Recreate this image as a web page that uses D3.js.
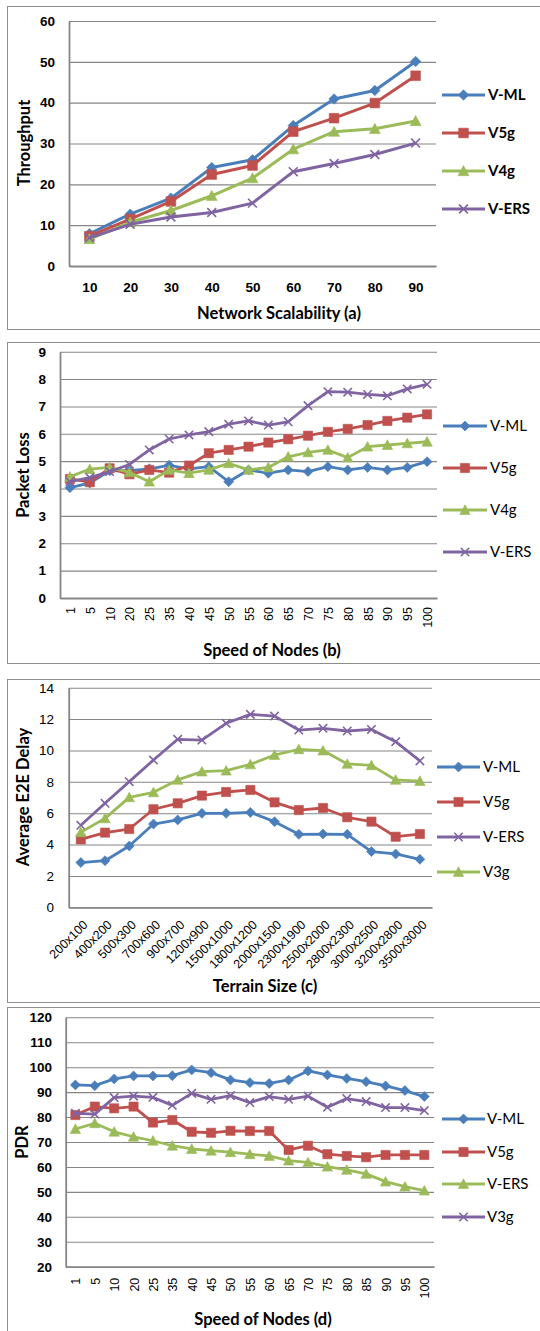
<!DOCTYPE html>
<html>
<head>
<meta charset="utf-8">
<script src="https://cdn.jsdelivr.net/npm/d3@7"></script>
<style>
  body { margin: 0; background: #fff; }
  svg { display: block; font-family: Lato, "Open Sans", sans-serif; }
</style>
</head>
<body>
<svg id="chart" width="540" height="1331"></svg>
<script>
// ---- (a) Throughput vs network scalability ----
const scalabilityLevels = ["10", "20", "30", "40", "50", "60", "70", "80", "90"];
const throughputTicks = [0, 10, 20, 30, 40, 50, 60];
const throughputVML  = [7.9, 12.7, 16.6, 24.1, 26.0, 34.4, 40.9, 43.0, 50.1];
const throughputV5g  = [7.3, 11.5, 15.8, 22.4, 24.6, 32.9, 36.2, 39.9, 46.6];
const throughputV4g  = [6.6, 10.7, 13.6, 17.2, 21.5, 28.6, 32.9, 33.6, 35.5];
const throughputVERS = [6.9, 10.2, 12.0, 13.1, 15.4, 23.1, 25.1, 27.3, 30.1];

// ---- (b) Packet loss vs speed of nodes ----
const nodeSpeeds = ["1", "5", "10", "20", "25", "35", "40", "45", "50", "55", "60", "65", "70", "75", "80", "85", "90", "95", "100"];
const lossTicks = [0, 1, 2, 3, 4, 5, 6, 7, 8, 9];
const lossVML  = [4.03, 4.2, 4.65, 4.65, 4.72, 4.85, 4.72, 4.8, 4.25, 4.68, 4.56, 4.68, 4.62, 4.8, 4.68, 4.77, 4.68, 4.77, 4.98];
const lossV5g  = [4.35, 4.23, 4.74, 4.52, 4.68, 4.58, 4.84, 5.29, 5.41, 5.53, 5.68, 5.8, 5.93, 6.07, 6.18, 6.32, 6.47, 6.59, 6.71];
const lossV4g  = [4.43, 4.71, 4.77, 4.59, 4.25, 4.68, 4.56, 4.68, 4.92, 4.68, 4.77, 5.16, 5.32, 5.41, 5.13, 5.53, 5.59, 5.65, 5.71];
const lossVERS = [4.25, 4.4, 4.62, 4.88, 5.41, 5.81, 5.96, 6.08, 6.35, 6.47, 6.32, 6.44, 7.03, 7.54, 7.52, 7.44, 7.39, 7.64, 7.81];

// ---- (c) Average end-to-end delay vs terrain size ----
const terrainSizes = ["200x100", "400x200", "500x300", "700x600", "900x700", "1200x900", "1500x1000", "1800x1200", "2000x1500", "2300x1900", "2500x2000", "2800x2300", "3000x2500", "3200x2800", "3500x3000"];
const delayTicks = [0, 2, 4, 6, 8, 10, 12, 14];
const delayVML  = [2.85, 2.97, 3.91, 5.31, 5.57, 5.99, 5.99, 6.05, 5.46, 4.65, 4.67, 4.65, 3.55, 3.4, 3.06];
const delayV5g  = [4.33, 4.76, 4.99, 6.25, 6.63, 7.12, 7.35, 7.48, 6.69, 6.2, 6.33, 5.74, 5.46, 4.5, 4.67];
const delayVERS = [5.23, 6.63, 8.01, 9.39, 10.71, 10.66, 11.73, 12.3, 12.19, 11.3, 11.41, 11.24, 11.34, 10.56, 9.33];
const delayV3g  = [4.78, 5.67, 7.01, 7.33, 8.12, 8.65, 8.71, 9.11, 9.71, 10.07, 9.99, 9.14, 9.05, 8.12, 8.05];

// ---- (d) Packet delivery ratio vs speed of nodes ----
const pdrTicks = [20, 30, 40, 50, 60, 70, 80, 90, 100, 110, 120];
const pdrVML  = [92.9, 92.6, 95.3, 96.5, 96.5, 96.6, 98.9, 97.8, 94.9, 93.8, 93.5, 94.9, 98.5, 96.9, 95.5, 94.2, 92.5, 90.6, 88.2];
const pdrV5g  = [80.8, 84.2, 83.5, 84.2, 77.8, 78.8, 74.1, 73.7, 74.5, 74.4, 74.4, 66.8, 68.5, 65.1, 64.4, 63.9, 64.8, 64.8, 64.8];
const pdrVERS = [75.2, 77.5, 74.1, 72.1, 70.5, 68.5, 67.2, 66.5, 65.9, 65.1, 64.4, 62.5, 61.8, 60.1, 58.8, 57.2, 54.1, 52.1, 50.5];
const pdrV3g  = [81.5, 81.2, 87.8, 88.4, 87.9, 84.7, 89.5, 87.1, 88.6, 85.8, 88.2, 87.1, 88.4, 83.9, 87.4, 86.2, 83.8, 83.8, 82.6];

// Series styles
const BLUE = "#4a7ebb", RED = "#c0504d", GREEN = "#9bbb59", PURPLE = "#8064a2";
const GRID = "#868686";

// Marker path builders (centered at 0,0)
const markerPaths = {
  diamond: r => `M0,${-r}L${r},0L0,${r}L${-r},0Z`,
  square: r => `M${-r},${-r}H${r}V${r}H${-r}Z`,
  triangle: r => `M0,${-r}L${r},${r * 0.85}L${-r},${r * 0.85}Z`,
  cross: r => `M${-r},${-r}L${r},${r}M${r},${-r}L${-r},${r}`
};
const markerSize = { diamond: 5, square: 4.6, triangle: 5.2, cross: 4.2 };

const svg = d3.select("#chart");

function drawMarker(sel, shape, color, scale) {
  const r = markerSize[shape] * scale;
  const p = sel.append("path").attr("d", markerPaths[shape](r));
  if (shape === "cross") {
    p.attr("fill", "none").attr("stroke", color).attr("stroke-width", 1.6);
  } else {
    p.attr("fill", color).attr("stroke", color).attr("stroke-width", 0.6);
  }
  return p;
}

function drawPanel(cfg) {
  const g = svg.append("g");
  const { frame, plot } = cfg;

  // outer chart border
  g.append("rect")
    .attr("x", frame.x + 0.5).attr("y", frame.y + 0.5)
    .attr("width", frame.w).attr("height", frame.h)
    .attr("fill", "none").attr("stroke", "#8e8e8e").attr("stroke-width", 1);

  const x = d3.scalePoint().domain(cfg.categories).range([plot.left, plot.right]).padding(0.5);
  const y = d3.scaleLinear().domain(cfg.yDomain).range([plot.bottom, plot.top]);

  // y axis with horizontal gridlines
  const yAxis = d3.axisLeft(y)
    .tickValues(cfg.yTicks)
    .tickSize(-(plot.right - plot.left))
    .tickSizeOuter(0)
    .tickPadding(plot.left - cfg.yLabelRight)
    .tickFormat(d3.format("d"));
  const yg = g.append("g").attr("transform", `translate(${plot.left},0)`).call(yAxis);
  yg.selectAll(".tick line").attr("stroke", GRID).attr("stroke-width", 1.1);
  yg.select(".domain").attr("stroke", GRID).attr("stroke-width", 1.8);
  yg.selectAll(".tick text")
    .attr("fill", "#000")
    .style("font-size", cfg.yTickSize + "px")
    .style("font-weight", cfg.yTickBold ? "bold" : "normal");

  // x axis
  const xAxis = d3.axisBottom(x).tickSize(0).tickSizeOuter(0);
  const xg = g.append("g").attr("transform", `translate(0,${plot.bottom})`).call(xAxis);
  xg.select(".domain").attr("stroke", GRID).attr("stroke-width", 1.8);
  const xt = xg.selectAll(".tick text")
    .attr("fill", "#000")
    .style("font-size", cfg.xTickSize + "px")
    .style("font-weight", cfg.xTickBold ? "bold" : "normal");
  if (cfg.xRotate === -90) {
    xt.attr("transform", "rotate(-90)")
      .attr("text-anchor", "end")
      .attr("x", -cfg.xLabelGap).attr("y", 0).attr("dy", "0.36em");
  } else if (cfg.xRotate === -45) {
    xt.attr("transform", `translate(${cfg.xLabelShift},${cfg.xLabelGap}) rotate(-45)`)
      .attr("text-anchor", "end")
      .attr("x", 0).attr("y", 0).attr("dy", "0.36em");
  } else {
    xt.attr("y", cfg.xLabelGap).attr("dy", "0.36em");
  }

  // series lines and markers
  const line = d3.line().x((d, i) => x(cfg.categories[i])).y(d => y(d));
  cfg.series.forEach(s => {
    g.append("path").datum(s.values)
      .attr("d", line)
      .attr("fill", "none")
      .attr("stroke", s.color)
      .attr("stroke-width", cfg.lineWidth)
      .attr("stroke-linejoin", "round");
    const mg = g.append("g");
    s.values.forEach((v, i) => {
      drawMarker(mg.append("g").attr("transform", `translate(${x(cfg.categories[i])},${y(v)})`),
        s.shape, s.color, cfg.markerScale);
    });
  });

  // axis titles
  g.append("text")
    .attr("x", cfg.xTitle.x).attr("y", cfg.xTitle.y).attr("dy", "0.36em")
    .attr("text-anchor", "middle")
    .style("font-size", cfg.titleSize + "px").style("font-weight", "bold")
    .text(cfg.xTitle.text);
  g.append("text")
    .attr("transform", `translate(${cfg.yTitle.x},${cfg.yTitle.y}) rotate(-90)`)
    .attr("dy", "0.36em")
    .attr("text-anchor", "middle")
    .style("font-size", cfg.titleSize + "px").style("font-weight", "bold")
    .text(cfg.yTitle.text);

  // legend
  const lg = cfg.legend;
  cfg.series.forEach((s, i) => {
    const ly = lg.rows[i];
    const row = g.append("g");
    row.append("line")
      .attr("x1", lg.x1).attr("x2", lg.x2).attr("y1", ly).attr("y2", ly)
      .attr("stroke", s.color).attr("stroke-width", cfg.lineWidth);
    drawMarker(row.append("g").attr("transform", `translate(${(lg.x1 + lg.x2) / 2},${ly})`),
      s.shape, s.color, cfg.markerScale);
    row.append("text")
      .attr("x", lg.textX).attr("y", ly).attr("dy", "0.36em")
      .style("font-size", lg.size + "px")
      .style("font-weight", lg.bold ? "bold" : "normal")
      .text(s.name);
  });
}

drawPanel({
  frame: { x: 7, y: 6, w: 600, h: 323 },
  plot: { left: 69, top: 21, right: 436, bottom: 266 },
  categories: scalabilityLevels,
  yDomain: [0, 60], yTicks: throughputTicks,
  yLabelRight: 55, yTickSize: 13.5, yTickBold: true,
  xTickSize: 13.5, xTickBold: true, xRotate: 0, xLabelGap: 21,
  lineWidth: 3, markerScale: 1.05, titleSize: 16.5,
  xTitle: { text: "Network Scalability (a)", x: 279, y: 313 },
  yTitle: { text: "Throughput", x: 24, y: 143 },
  legend: { x1: 442, x2: 485, textX: 488, rows: [95, 133, 171, 209], size: 15, bold: true },
  series: [
    { name: "V-ML", values: throughputVML, color: BLUE, shape: "diamond" },
    { name: "V5g", values: throughputV5g, color: RED, shape: "square" },
    { name: "V4g", values: throughputV4g, color: GREEN, shape: "triangle" },
    { name: "V-ERS", values: throughputVERS, color: PURPLE, shape: "cross" }
  ]
});

drawPanel({
  frame: { x: 7, y: 342, w: 600, h: 321 },
  plot: { left: 60, top: 351.7, right: 437, bottom: 598 },
  categories: nodeSpeeds,
  yDomain: [0, 9], yTicks: lossTicks,
  yLabelRight: 46, yTickSize: 13.5, yTickBold: true,
  xTickSize: 12.5, xTickBold: false, xRotate: -90, xLabelGap: 9,
  lineWidth: 2.8, markerScale: 1, titleSize: 16.5,
  xTitle: { text: "Speed of Nodes (b)", x: 272, y: 650 },
  yTitle: { text: "Packet Loss", x: 23, y: 475 },
  legend: { x1: 443, x2: 487, textX: 490, rows: [426, 468, 510, 552], size: 15, bold: false },
  series: [
    { name: "V-ML", values: lossVML, color: BLUE, shape: "diamond" },
    { name: "V5g", values: lossV5g, color: RED, shape: "square" },
    { name: "V4g", values: lossV4g, color: GREEN, shape: "triangle" },
    { name: "V-ERS", values: lossVERS, color: PURPLE, shape: "cross" }
  ]
});

drawPanel({
  frame: { x: 7, y: 679, w: 600, h: 323 },
  plot: { left: 68.7, top: 687.7, right: 432, bottom: 907.3 },
  categories: terrainSizes,
  yDomain: [0, 14], yTicks: delayTicks,
  yLabelRight: 54, yTickSize: 13.5, yTickBold: false,
  xTickSize: 12.5, xTickBold: false, xRotate: -45, xLabelGap: 15, xLabelShift: 4,
  lineWidth: 2.8, markerScale: 1, titleSize: 16.5,
  xTitle: { text: "Terrain Size (c)", x: 265, y: 986 },
  yTitle: { text: "Average E2E Delay", x: 23, y: 797 },
  legend: { x1: 437, x2: 480, textX: 483, rows: [767, 802, 837, 872], size: 15, bold: false },
  series: [
    { name: "V-ML", values: delayVML, color: BLUE, shape: "diamond" },
    { name: "V5g", values: delayV5g, color: RED, shape: "square" },
    { name: "V-ERS", values: delayVERS, color: PURPLE, shape: "cross" },
    { name: "V3g", values: delayV3g, color: GREEN, shape: "triangle" }
  ]
});

drawPanel({
  frame: { x: 7, y: 1007, w: 600, h: 400 },
  plot: { left: 65.7, top: 1017.3, right: 434, bottom: 1266.7 },
  categories: nodeSpeeds,
  yDomain: [20, 120], yTicks: pdrTicks,
  yLabelRight: 52, yTickSize: 13.5, yTickBold: true,
  xTickSize: 12.5, xTickBold: false, xRotate: -90, xLabelGap: 11,
  lineWidth: 2.8, markerScale: 1, titleSize: 16.5,
  xTitle: { text: "Speed  of Nodes (d)", x: 263, y: 1319 },
  yTitle: { text: "PDR", x: 22, y: 1142 },
  legend: { x1: 442, x2: 485, textX: 487, rows: [1119, 1152, 1184, 1217], size: 15, bold: false },
  series: [
    { name: "V-ML", values: pdrVML, color: BLUE, shape: "diamond" },
    { name: "V5g", values: pdrV5g, color: RED, shape: "square" },
    { name: "V-ERS", values: pdrVERS, color: GREEN, shape: "triangle" },
    { name: "V3g", values: pdrV3g, color: PURPLE, shape: "cross" }
  ]
});
</script>
</body>
</html>
